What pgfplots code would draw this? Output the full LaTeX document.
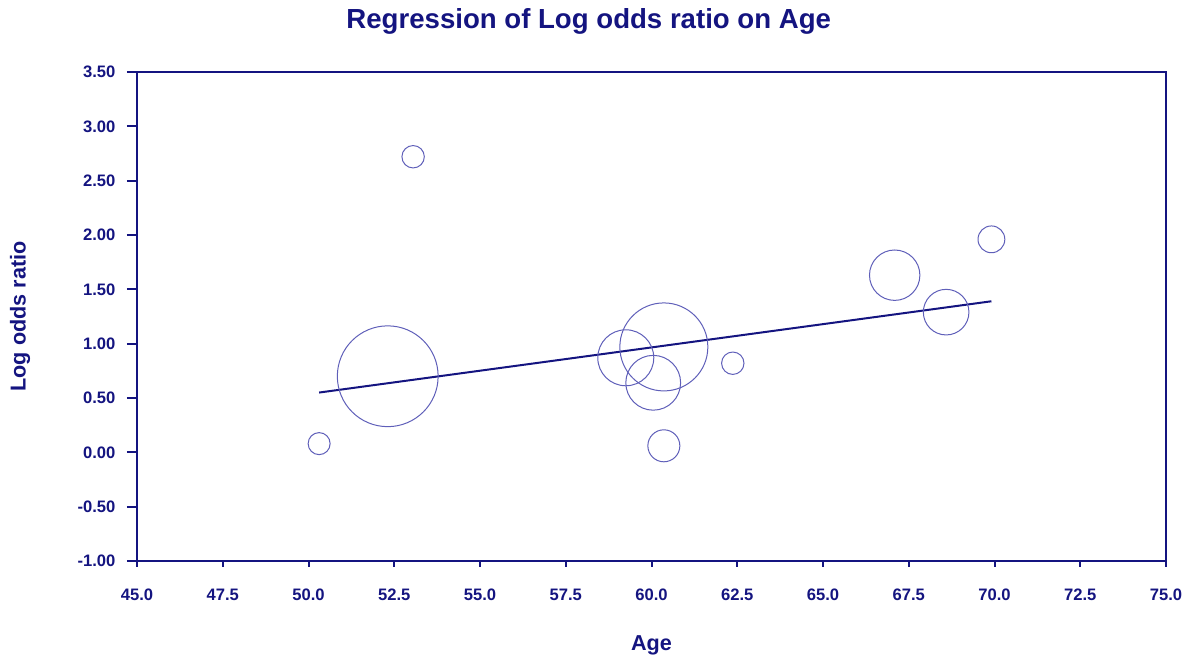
\documentclass[border=0pt]{standalone}
\usepackage{fontspec}
\setmainfont{Liberation Sans}
\usepackage{pgfplots}
\usepackage{pgfplotstable}
\pgfplotsset{compat=1.18}
\usetikzlibrary{calc}

\definecolor{navy}{RGB}{20,20,128}
\definecolor{ring}{RGB}{95,95,185}

% age, log odds ratio, bubble radius (pt)
\pgfplotstableread{
age   lor   r
50.31 0.08  5.5
53.05 2.72  5.6
52.31 0.70  25.2
59.25 0.87  14.0
60.36 0.97  22.0
60.05 0.64  13.7
60.36 0.06  8.0
62.37 0.82  5.6
67.09 1.63  12.6
68.59 1.29  11.4
69.91 1.96  6.7
}\studies

\begin{document}
\begin{tikzpicture}
\begin{axis}[
    scale only axis,
    width=514.5pt, height=244.5pt,
    xmin=45, xmax=75, ymin=-1, ymax=3.5,
    xtick={45,47.5,...,75},
    ytick={-1,-0.5,...,3.5},
    axis line style={navy, line width=1pt},
    tick style={navy, line width=1pt},
    tick align=outside,
    xtick pos=bottom, ytick pos=left,
    xtick style={/pgfplots/major tick length=3pt},
    ytick style={/pgfplots/major tick length=5pt},
    /pgf/number format/assume math mode=true,
    ticklabel style={font=\bfseries\fontsize{8.3}{10}\selectfont, text=navy},
    xticklabel style={yshift=-6pt, /pgf/number format/.cd, fixed, fixed zerofill, precision=1},
    yticklabel style={xshift=-3pt, /pgf/number format/.cd, fixed, fixed zerofill, precision=2},
    title={Regression of Log odds ratio on Age},
    title style={font=\bfseries\fontsize{13.8}{16}\selectfont, text=navy,
        at={(axis description cs:0.439,1)}, anchor=center, yshift=19.5pt},
    xlabel={Age},
    ylabel={Log odds ratio},
    label style={font=\bfseries\fontsize{10.8}{12}\selectfont, text=navy},
    xlabel style={at={(axis description cs:0.5,-0.172)}, anchor=center},
    ylabel style={at={(axis description cs:-0.1137,0.5)}, anchor=center},
]
\addplot[scatter, only marks, mark=o, line width=0.5pt,
    scatter/use mapped color={draw=ring},
    visualization depends on={\thisrow{r} \as \rad},
    scatter/@pre marker code/.append style={/tikz/mark size=\rad pt}]
    table[x=age, y=lor] {\studies};
\addplot[navy, line width=1pt] coordinates {(50.31,0.55) (69.91,1.39)};
\end{axis}
\path ($(current axis.south west)+(-68.5pt,-50pt)$) rectangle ($(current axis.north east)+(16pt,36pt)$);
\end{tikzpicture}
\end{document}
